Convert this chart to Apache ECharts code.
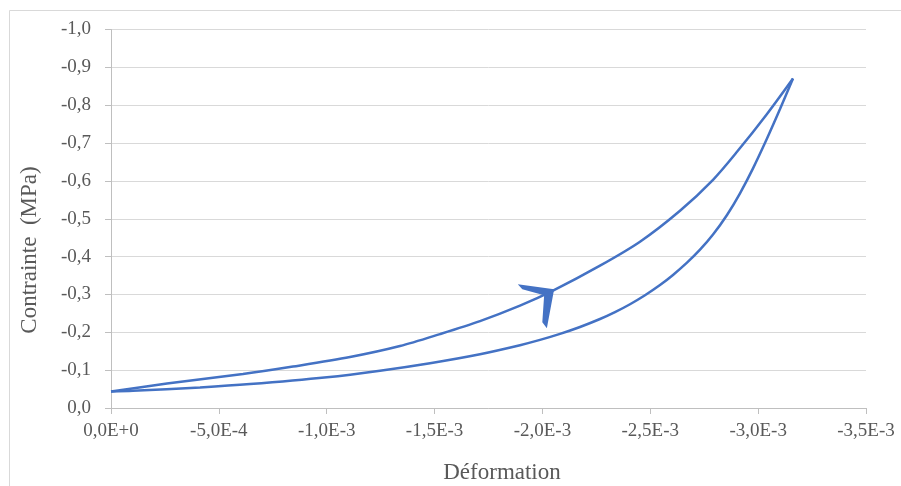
<!DOCTYPE html>
<html>
<head>
<meta charset="utf-8">
<script src="https://cdn.jsdelivr.net/npm/echarts@6/dist/echarts.min.js"></script>
<style>html,body{margin:0;padding:0;background:#fff;}#c{width:901px;height:486px;}</style>
</head>
<body>
<div id="c"></div>
<script>
// Loading branch (upper curve), strain and stress
var strainUp = [0, -2.596e-4, -6.119e-4, -8.437e-4, -1.1080e-3, -1.3397e-3, -1.5252e-3, -1.7106e-3, -1.8960e-3, -2.0490e-3, -2.2669e-3, -2.4523e-3, -2.6378e-3, -2.7908e-3, -2.9020e-3, -3.0411e-3, -3.1616e-3];
var stressUp = [-0.0435, -0.0646, -0.0897, -0.1095, -0.1346, -0.1636, -0.1953, -0.2296, -0.2704, -0.3100, -0.3760, -0.4393, -0.5211, -0.6029, -0.6768, -0.7770, -0.8707];
// Unloading branch (lower curve)
var strainDown = [-3.1616e-3, -3.1014e-3, -3.0411e-3, -2.9762e-3, -2.9159e-3, -2.8557e-3, -2.7908e-3, -2.7305e-3, -2.6702e-3, -2.6053e-3, -2.5451e-3, -2.4755e-3, -2.4060e-3, -2.3364e-3, -2.2669e-3, -2.1742e-3, -2.0815e-3, -1.9888e-3, -1.8960e-3, -1.7106e-3, -1.4788e-3, -1.2470e-3, -1.0013e-3, -6.444e-4, -4.126e-4, -1.020e-4, 0];
var stressDown = [-0.8707, -0.7897, -0.7119, -0.6332, -0.5673, -0.5100, -0.4583, -0.4182, -0.3839, -0.3515, -0.3248, -0.2979, -0.2741, -0.2533, -0.2351, -0.2140, -0.1958, -0.1799, -0.1660, -0.1422, -0.1185, -0.0987, -0.0813, -0.0631, -0.0544, -0.0454, -0.0435];
// Direction arrow anchor (data coordinates)
var arrowAt = [-1.97e-3, -0.269];
// Axis ranges
var xRange = [-3.5e-3, 0], xStep = 5e-4;
var yRange = [-1.0, 0], yStep = 0.1;
var xTitle = 'Déformation';
var yTitle = 'Contrainte  (MPa)';

function zip(a, b) { return a.map(function (v, i) { return [v, b[i]]; }); }
function sciFmt(v) {
  if (Math.abs(v) < 1e-12) return '0,0E+0';
  var e = Math.floor(Math.log10(Math.abs(v)) + 1e-9);
  var m = v / Math.pow(10, e);
  return m.toFixed(1).replace('.', ',') + 'E' + (e >= 0 ? '+' + e : e);
}
var serif = '"Liberation Serif","Times New Roman",serif';
var blue = '#4472C4';
var chart = echarts.init(document.getElementById('c'), null, {renderer: 'canvas'});
chart.setOption({
  animation: false,
  backgroundColor: '#fff',
  grid: {left: 111, right: 35, top: 29.5, bottom: 78},
  xAxis: {
    type: 'value', min: xRange[0], max: xRange[1], interval: xStep, inverse: true,
    axisLine: {show: true, onZero: false, lineStyle: {color: '#bfbfbf', width: 1}},
    axisTick: {show: true, length: 6, lineStyle: {color: '#bfbfbf'}},
    axisLabel: {formatter: sciFmt, color: '#595959', fontFamily: serif, fontSize: 19, margin: 14},
    splitLine: {show: false}
  },
  yAxis: {
    type: 'value', min: yRange[0], max: yRange[1], interval: yStep, inverse: true,
    axisLine: {show: true, onZero: false, lineStyle: {color: '#bfbfbf', width: 1}},
    axisTick: {show: true, length: 6, lineStyle: {color: '#bfbfbf'}},
    axisLabel: {formatter: function (v) { return v.toFixed(1).replace('.', ',').replace('-0,0', '0,0'); }, color: '#595959', fontFamily: serif, fontSize: 19, margin: 20},
    splitLine: {show: true, lineStyle: {color: '#d9d9d9', width: 1}}
  },
  graphic: [
    {type: 'rect', shape: {x: 9.5, y: 10.5, width: 1000, height: 1000}, style: {fill: 'none', stroke: '#d9d9d9', lineWidth: 1}, silent: true, z: -1},
    {type: 'text', x: 502, y: 473, style: {text: xTitle, fill: '#595959', font: '23px ' + serif, textAlign: 'center', textVerticalAlign: 'middle'}},
    {type: 'text', x: 30, y: 250, rotation: Math.PI / 2, style: {text: yTitle, fill: '#595959', font: '23px ' + serif, textAlign: 'center', textVerticalAlign: 'middle'}}
  ],
  series: [
    {
      type: 'line', data: zip(strainUp, stressUp), showSymbol: false, smooth: 0.3,
      lineStyle: {color: blue, width: 2.5}, itemStyle: {color: blue},
      markPoint: {
        silent: true, label: {show: false},
        data: [{coord: arrowAt, symbol: 'path://M0,0 L40,5 L32,44 L27,38 L29,11 L5,5 Z', symbolSize: [40, 44], symbolKeepAspect: true, itemStyle: {color: blue}}]
      }
    },
    {
      type: 'line', data: zip(strainDown, stressDown), showSymbol: false, smooth: 0.3,
      lineStyle: {color: blue, width: 2.5}, itemStyle: {color: blue}
    }
  ]
});
</script>
</body>
</html>
